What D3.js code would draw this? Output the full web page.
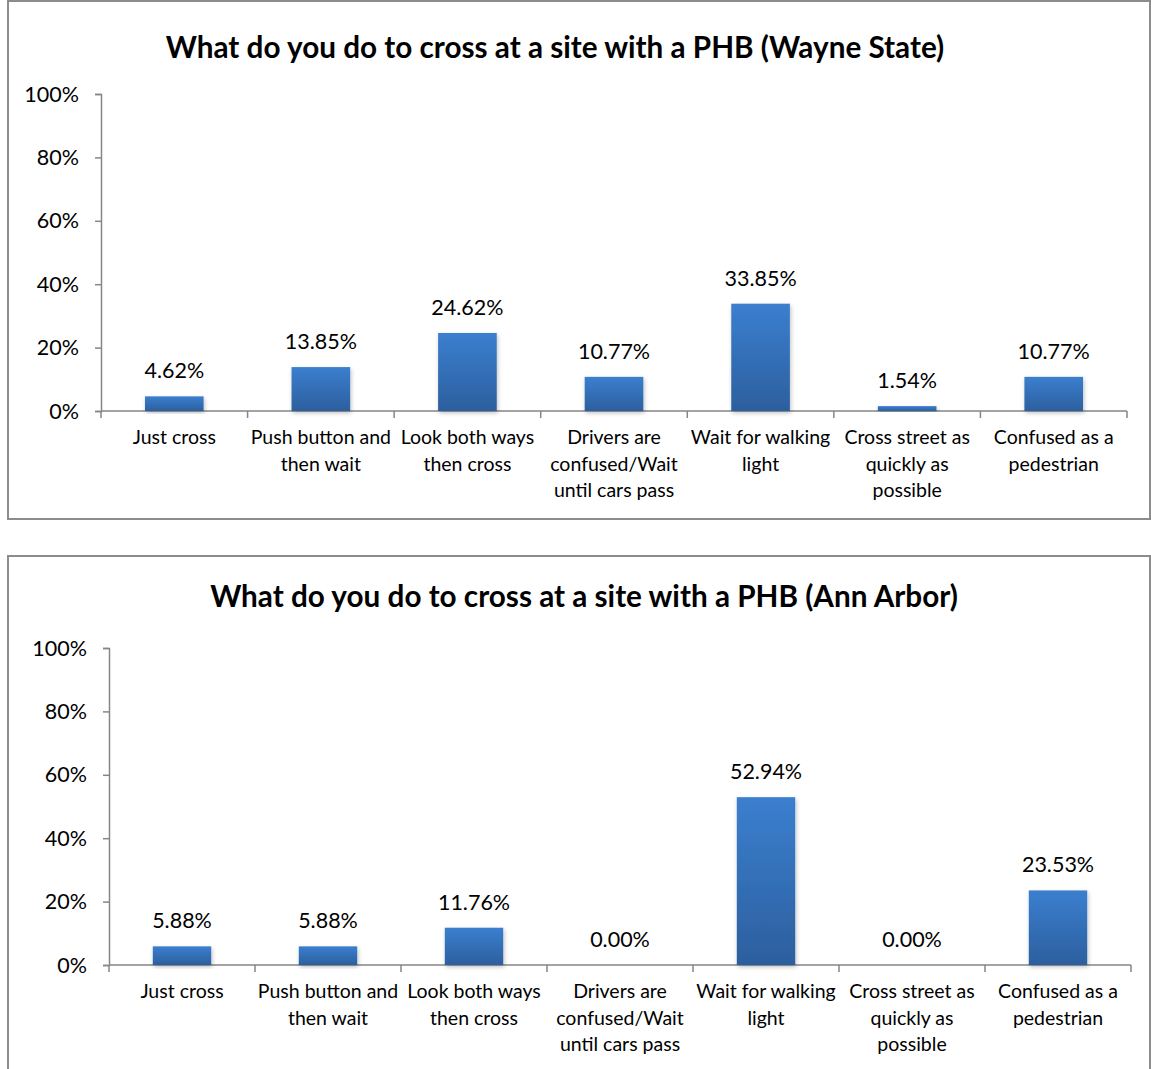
<!DOCTYPE html>
<html>
<head>
<meta charset="utf-8">
<script src="https://cdn.jsdelivr.net/npm/d3@7"></script>
<style>
  html, body { margin: 0; padding: 0; background: #fff; }
  svg { display: block; }
  text { font-family: "Lato", "Open Sans", sans-serif; fill: #000; }
</style>
</head>
<body>
<svg id="chart" width="1151" height="1069"></svg>
<script>
const categories = [
  ["Just cross"],
  ["Push button and", "then wait"],
  ["Look both ways", "then cross"],
  ["Drivers are", "confused/Wait", "until cars pass"],
  ["Wait for walking", "light"],
  ["Cross street as", "quickly as", "possible"],
  ["Confused as a", "pedestrian"]
];
const wayneValues = [4.62, 13.85, 24.62, 10.77, 33.85, 1.54, 10.77];
const annArborValues = [5.88, 5.88, 11.76, 0.00, 52.94, 0.00, 23.53];
const yTicks = [0, 20, 40, 60, 80, 100];
const titles = [
  "What do you do to cross at a site with a PHB (Wayne State)",
  "What do you do to cross at a site with a PHB (Ann Arbor)"
];

const svg = d3.select("#chart");
const defs = svg.append("defs");
const grad = defs.append("linearGradient").attr("id", "barGrad")
  .attr("x1", 0).attr("y1", 0).attr("x2", 0).attr("y2", 1);
grad.append("stop").attr("offset", "0%").attr("stop-color", "#3b7fcf");
grad.append("stop").attr("offset", "100%").attr("stop-color", "#2c5f9e");
const filt = defs.append("filter").attr("id", "shadow")
  .attr("x", "-20%").attr("y", "-20%").attr("width", "140%").attr("height", "140%");
filt.append("feDropShadow").attr("dx", 1).attr("dy", 2).attr("stdDeviation", 2)
  .attr("flood-color", "#000").attr("flood-opacity", 0.25);

const FONT = 19.5;
const AXIS_COLOR = "#868686";

function drawChart(cfg) {
  const g = svg.append("g");
  g.append("rect")
    .attr("x", cfg.box[0]).attr("y", cfg.box[1])
    .attr("width", cfg.box[2]).attr("height", cfg.box[3])
    .attr("fill", "#fff").attr("stroke", "#8c8c8c").attr("stroke-width", 2);

  g.append("text")
    .attr("x", cfg.titleX).attr("y", cfg.titleY)
    .attr("text-anchor", "middle")
    .attr("font-weight", "bold").attr("font-size", 29.7)
    .text(cfg.title);

  const x = d3.scaleBand()
    .domain(d3.range(categories.length))
    .range([cfg.left, cfg.right])
    .paddingInner(0.6).paddingOuter(0.3);
  const y = d3.scaleLinear().domain([0, 100]).range([cfg.bottom, cfg.top]);

  const yAxis = d3.axisLeft(y).tickValues(yTicks)
    .tickFormat(d => d + "%").tickSize(6).tickPadding(16);
  const ya = g.append("g").attr("transform", `translate(${cfg.left},0)`).call(yAxis);
  ya.selectAll("path, line").attr("stroke", AXIS_COLOR).attr("stroke-width", 1.5);
  ya.selectAll("text").attr("font-size", 21.5).attr("fill", "#000")
    .attr("font-family", "Lato, sans-serif").attr("dy", "0.33em");

  g.append("line")
    .attr("x1", cfg.left).attr("x2", cfg.right)
    .attr("y1", y(0)).attr("y2", y(0))
    .attr("stroke", AXIS_COLOR).attr("stroke-width", 1.5);
  const step = x.step();
  const bounds = d3.range(categories.length + 1).map(i =>
    i < categories.length ? x(i) - step * x.paddingInner() / 2 : x(i - 1) + x.bandwidth() + step * x.paddingInner() / 2);
  g.selectAll(".xtick").data(bounds).enter().append("line")
    .attr("x1", d => d).attr("x2", d => d)
    .attr("y1", y(0)).attr("y2", y(0) + 7)
    .attr("stroke", AXIS_COLOR).attr("stroke-width", 1.5);

  g.selectAll(".bar").data(cfg.values).enter().append("rect")
    .attr("x", (d, i) => x(i)).attr("width", x.bandwidth())
    .attr("y", d => y(d)).attr("height", d => y(0) - y(d))
    .attr("fill", "url(#barGrad)")
    .attr("filter", "url(#shadow)");

  g.selectAll(".val").data(cfg.values).enter().append("text")
    .attr("x", (d, i) => x(i) + x.bandwidth() / 2)
    .attr("y", d => y(d) - 18)
    .attr("text-anchor", "middle").attr("font-size", 21.5)
    .text(d => d.toFixed(2) + "%");

  categories.forEach((lines, i) => {
    const t = g.append("text")
      .attr("x", x(i) + x.bandwidth() / 2)
      .attr("y", y(0) + 33)
      .attr("text-anchor", "middle").attr("font-size", FONT);
    lines.forEach((ln, j) => {
      t.append("tspan").attr("x", x(i) + x.bandwidth() / 2)
        .attr("dy", j === 0 ? 0 : 26.5).text(ln);
    });
  });
}

drawChart({
  box: [8, 1, 1142, 518],
  title: titles[0], titleX: 555, titleY: 58,
  left: 101, right: 1127, top: 94, bottom: 411,
  values: wayneValues
});
drawChart({
  box: [8, 556, 1142, 530],
  title: titles[1], titleX: 584, titleY: 607,
  left: 109, right: 1131, top: 648, bottom: 965,
  values: annArborValues
});
</script>
</body>
</html>
